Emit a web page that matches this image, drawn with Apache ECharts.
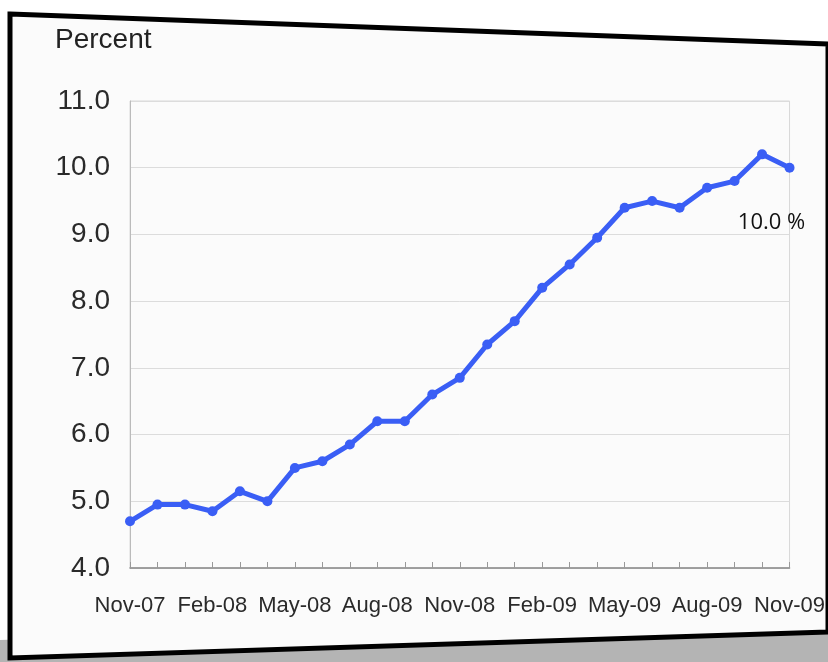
<!DOCTYPE html>
<html>
<head>
<meta charset="utf-8">
<style>
  html, body { margin: 0; padding: 0; background: #ffffff; }
  #chart_container { width: 828px; height: 662px; }
</style>
<script src="https://cdn.jsdelivr.net/npm/echarts@6/dist/echarts.min.js"></script>
</head>
<body>
<div id="chart_container"></div>
<script>
// monthly unemployment rate, Nov-07 .. Nov-09
var months = ['Nov-07','Dec-07','Jan-08','Feb-08','Mar-08','Apr-08','May-08','Jun-08','Jul-08',
              'Aug-08','Sep-08','Oct-08','Nov-08','Dec-08','Jan-09','Feb-09','Mar-09','Apr-09',
              'May-09','Jun-09','Jul-09','Aug-09','Sep-09','Oct-09','Nov-09'];
var rate = [4.7, 4.95, 4.95, 4.85, 5.15, 5.0, 5.5, 5.6, 5.85, 6.2, 6.2, 6.6, 6.85,
            7.35, 7.7, 8.2, 8.55, 8.95, 9.4, 9.5, 9.4, 9.7, 9.8, 10.2, 10.0];
var lastLabel = '10.0 %';

var dom = document.getElementById("chart_container");
var myChart = echarts.init(dom);

var seriesData = rate.map(function (v, i) {
    if (i === rate.length - 1) {
        return {
            value: v,
            label: {
                show: true,
                formatter: lastLabel,
                position: 'bottom',
                offset: [-18, 34],
                color: '#111',
                fontSize: 22,
                fontFamily: 'Open Sans'
            }
        };
    }
    return v;
});

var option = {
    backgroundColor: '#ffffff',
    animation: false,
    title: {
        text: 'Percent',
        left: 50,
        top: 21,
        textStyle: { fontFamily: 'Liberation Sans', fontWeight: 'normal', fontSize: 28, color: '#222' }
    },
    graphic: [
        {
            type: 'polygon',
            z: -10,
            shape: { points: [[0, 640], [828, 615], [828, 662], [0, 662]] },
            style: { fill: '#b4b4b4' }
        },
        {
            type: 'polygon',
            z: -5,
            shape: { points: [[10, 14], [828, 44], [828, 632], [10, 658]] },
            style: { fill: '#fbfbfb', stroke: '#000', lineWidth: 5 }
        }
    ],
    grid: {
        left: 130,
        right: 38,
        top: 101,
        bottom: 94,
        show: true,
        borderColor: '#d8d8d8',
        borderWidth: 1,
        backgroundColor: 'transparent'
    },
    xAxis: {
        type: 'category',
        data: months,
        boundaryGap: false,
        axisLine: { lineStyle: { color: '#888', width: 1.5 } },
        axisTick: { inside: true, length: 6, interval: 0, lineStyle: { color: '#999' } },
        axisLabel: {
            interval: 2,
            margin: 27,
            color: '#2a2a2a',
            fontSize: 22,
            fontFamily: 'Liberation Sans'
        },
        splitLine: { show: false }
    },
    yAxis: {
        type: 'value',
        min: 4,
        max: 11,
        interval: 1,
        axisLine: { show: true, lineStyle: { color: '#bbb' } },
        axisTick: { show: false },
        axisLabel: {
            margin: 20,
            color: '#2a2a2a',
            fontSize: 28,
            fontFamily: 'Liberation Sans',
            formatter: function (v) { return v.toFixed(1); }
        },
        splitLine: { lineStyle: { color: '#dcdcdc', width: 1 } }
    },
    series: [
        {
            name: 'Unemployment rate',
            type: 'line',
            data: seriesData,
            symbol: 'circle',
            symbolSize: 10,
            showSymbol: true,
            lineStyle: { color: '#3a5ef5', width: 5 },
            itemStyle: { color: '#3a5ef5' }
        }
    ]
};

myChart.setOption(option, true);
</script>
</body>
</html>
